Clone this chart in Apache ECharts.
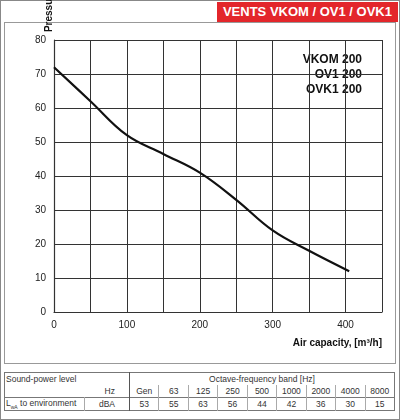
<!DOCTYPE html>
<html><head><meta charset="utf-8">
<script src="https://cdn.jsdelivr.net/npm/echarts@6/dist/echarts.min.js"></script>
<style>
body{margin:0;background:#fff;font-family:"Liberation Sans",Arial,sans-serif;}
#wrap{position:absolute;left:0;top:0;width:398px;height:418px;border:1px solid #888;}
#hdr{position:absolute;right:2px;top:2px;background:#e3262b;color:#fff;font-weight:bold;font-size:13px;padding:2px 6px;height:16px;line-height:16px;}
#box{position:absolute;left:4px;top:22px;width:390px;height:340px;border:1px solid #999;}
#c{position:absolute;left:0;top:0;width:400px;height:365px;}
table{position:absolute;left:4px;top:372px;width:391px;border-collapse:collapse;table-layout:fixed;font-size:8.5px;color:#333;border:1px solid #777;}
td{padding:0 1px;height:12px;text-align:center;border-left:1px solid #aaa;}
tr.r1 td{border-left:none}
</style></head><body>
<div id="wrap"></div><div id="hdr">VENTS VKOM / OV1 / OVK1</div><div id="box"></div>
<div id="c"></div>
<table>
<colgroup><col style="width:80px"><col style="width:45px"><col span="9"></colgroup>
<tr class="r1"><td colspan="2" style="text-align:left">Sound-power level</td><td colspan="9" style="border-left:1px solid #555">Octave-frequency band [Hz]</td></tr>
<tr style="border-bottom:1px solid #777"><td style="border-left:none"></td><td style="border-left:none;text-align:right;padding-right:14px">Hz</td><td id="hz0" style="border-left:1px solid #555">Gen</td></tr>
<tr id="vals"><td style="text-align:left;border-left:none">L<sub style="font-size:5px">wA</sub> to environment</td><td>dBA</td></tr>
</table>
<script>
const bands=["63","125","250","500","1000","2000","4000","8000"];
const soundVals=[53,55,63,56,44,42,36,30,15];
const airflow=[0,50,100,150,200,250,300,350,405];
const pressure=[72,62,52,46.5,41,33,24,18,12];
const models=["VKOM 200","OV1 200","OVK1 200"];
const hzRow=document.getElementById('hz0').parentNode;
bands.forEach(b=>{const t=document.createElement('td');t.textContent=b;hzRow.appendChild(t);});
const vr=document.getElementById('vals');
soundVals.forEach((v,i)=>{const t=document.createElement('td');t.textContent=v;if(i==0)t.style.borderLeft='1px solid #555';vr.appendChild(t);});
const ch=echarts.init(document.getElementById('c'));
ch.setOption({
 animation:false,
 grid:{left:54,top:40,width:328,height:272,containLabel:false,outerBoundsMode:'none'},
 xAxis:{type:'value',min:0,max:450,interval:50,
  axisLine:{lineStyle:{color:'#333',width:1.2}},axisTick:{show:false},
  splitLine:{lineStyle:{color:'#333',width:1}},
  axisLabel:{color:'#222',fontSize:10,formatter:v=>v%100===0&&v<450?v:''},
  name:'Air capacity, [m³/h]',nameLocation:'end',nameGap:0,
  nameTextStyle:{fontWeight:'bold',fontSize:10,color:'#111',align:'right',verticalAlign:'top',padding:[26,0,0,0]}},
 yAxis:{type:'value',min:0,max:80,interval:10,
  axisLine:{show:true,lineStyle:{color:'#333',width:1.2}},axisTick:{show:false},
  splitLine:{lineStyle:{color:'#333',width:1}},
  axisLabel:{color:'#222',fontSize:10},
  name:'Pressure, ΔP [Pa]',nameLocation:'end',nameRotate:90,nameGap:28,
  nameTextStyle:{fontWeight:'bold',fontSize:10,color:'#111',align:'right',verticalAlign:'bottom',padding:[0,0,0,0]}},
 series:[{type:'line',data:airflow.map((x,i)=>[x,pressure[i]]),smooth:0.4,symbol:'none',
  lineStyle:{color:'#111',width:2.2}}],
 graphic:[{type:'text',x:364,y:50,style:{text:models.join('\n'),font:'bold 12px "Liberation Sans",Arial',align:'right',lineHeight:15,fill:'#111',backgroundColor:'#fff',padding:[2,2]}}]
});
</script></body></html>
